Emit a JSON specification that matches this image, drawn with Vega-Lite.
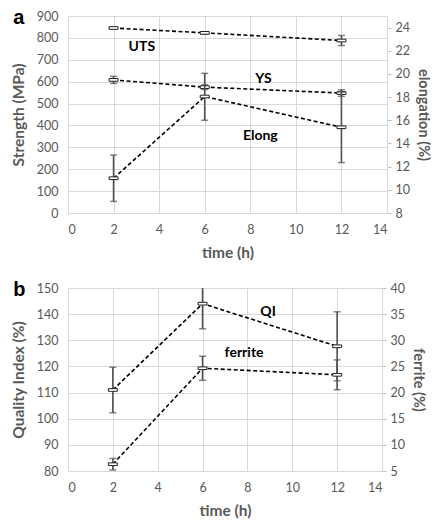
{
  "$schema": "https://vega.github.io/schema/vega-lite/v6.json",
  "background": "white",
  "padding": {"left": 11, "top": 8, "right": 0, "bottom": 0},
  "spacing": 19,
  "config": {
    "font": "Lato",
    "view": {"stroke": null},
    "axis": {
      "labelFont": "Lato", "labelFontSize": 12.5, "labelColor": "#595959",
      "titleFont": "Lato", "titleFontSize": 15.5, "titleFontWeight": "bold", "titleColor": "#595959",
      "gridColor": "#d9d9d9", "domainColor": "#d9d9d9", "tickColor": "#bfbfbf"
    },
    "title": {"font": "Liberation Sans", "fontSize": 20, "fontWeight": "bold", "color": "#000", "anchor": "start", "frame": "bounds"}
  },
  "datasets": {
    "a": [
      {"time": 2, "series": "UTS", "value": 845, "lo": 842, "hi": 848},
      {"time": 6, "series": "UTS", "value": 823, "lo": 818, "hi": 828},
      {"time": 12, "series": "UTS", "value": 788, "lo": 765, "hi": 811},
      {"time": 2, "series": "YS", "value": 608, "lo": 592, "hi": 624},
      {"time": 6, "series": "YS", "value": 575, "lo": 564, "hi": 586},
      {"time": 12, "series": "YS", "value": 548, "lo": 533, "hi": 563}
    ],
    "aR": [
      {"time": 2, "series": "Elong", "value": 11.0, "lo": 9.0, "hi": 13.0},
      {"time": 6, "series": "Elong", "value": 18.05, "lo": 16.0, "hi": 20.05},
      {"time": 12, "series": "Elong", "value": 15.4, "lo": 12.35, "hi": 18.45}
    ],
    "aLabels": [
      {"label": "UTS", "time": 3.24, "value": 760},
      {"label": "YS", "time": 8.58, "value": 613},
      {"label": "Elong", "time": 8.44, "value": 352}
    ],
    "b": [
      {"time": 2, "series": "QI", "value": 111.0, "lo": 102.3, "hi": 119.7},
      {"time": 6, "series": "QI", "value": 144.0, "lo": 134.4, "hi": 153.6},
      {"time": 12, "series": "QI", "value": 127.7, "lo": 114.5, "hi": 140.9}
    ],
    "bR": [
      {"time": 2, "series": "ferrite", "value": 6.3, "lo": 5.2, "hi": 7.4},
      {"time": 6, "series": "ferrite", "value": 24.65, "lo": 22.35, "hi": 26.95},
      {"time": 12, "series": "ferrite", "value": 23.4, "lo": 20.55, "hi": 26.25}
    ],
    "bLabels": [
      {"label": "QI", "time": 8.92, "value": 140.8},
      {"label": "ferrite", "time": 7.85, "value": 125}
    ]
  },
  "vconcat": [
    {
      "width": 319, "height": 197,
      "title": {"text": "a", "dx": 2, "offset": -18},
      "encoding": {
        "x": {"field": "time", "type": "quantitative", "scale": {"domain": [0, 14], "nice": false},
              "axis": {"values": [0, 2, 4, 6, 8, 10, 12, 14], "title": "time (h)", "ticks": false, "labelPadding": 10, "titlePadding": 10}}
      },
      "layer": [
        {
          "encoding": {
            "y": {"type": "quantitative", "scale": {"domain": [0, 900], "nice": false},
                  "axis": {"orient": "left", "values": [0, 100, 200, 300, 400, 500, 600, 700, 800, 900], "title": "Strength (MPa)", "ticks": false, "labelPadding": 10, "titlePadding": 10}}
          },
          "layer": [
            {"data": {"name": "a"}, "mark": {"type": "rule", "color": "#505050", "strokeWidth": 1.6},
             "encoding": {"y": {"field": "lo", "type": "quantitative"}, "y2": {"field": "hi"}}},
            {"data": {"name": "a"}, "mark": {"type": "tick", "orient": "horizontal", "size": 7, "thickness": 1.5, "color": "#505050"},
             "encoding": {"y": {"field": "lo", "type": "quantitative"}}},
            {"data": {"name": "a"}, "mark": {"type": "tick", "orient": "horizontal", "size": 7, "thickness": 1.5, "color": "#505050"},
             "encoding": {"y": {"field": "hi", "type": "quantitative"}}},
            {"data": {"name": "a"}, "mark": {"type": "line", "color": "black", "strokeWidth": 1.6, "strokeDash": [4, 2.5]},
             "encoding": {"y": {"field": "value", "type": "quantitative"}, "detail": {"field": "series"}}},
            {"data": {"name": "a"}, "mark": {"type": "point", "shape": "M-1,-0.3H1V0.3H-1Z", "size": 81, "filled": true, "fill": "white", "stroke": "#222", "strokeWidth": 1, "opacity": 1},
             "encoding": {"y": {"field": "value", "type": "quantitative"}}},
            {"data": {"name": "aLabels"}, "mark": {"type": "text", "font": "Lato", "fontSize": 14, "fontWeight": "bold", "color": "black"},
             "encoding": {"y": {"field": "value", "type": "quantitative"}, "text": {"field": "label"}}}
          ]
        },
        {
          "data": {"name": "aR"},
          "encoding": {
            "y": {"type": "quantitative", "scale": {"domain": [8, 25], "nice": false},
                  "axis": {"orient": "right", "values": [8, 10, 12, 14, 16, 18, 20, 22, 24], "title": "elongation (%)", "titleFontSize": 14.5, "grid": false, "ticks": true, "tickSize": 4, "domain": true, "labelPadding": 4, "titlePadding": 6}}
          },
          "layer": [
            {"mark": {"type": "rule", "color": "#505050", "strokeWidth": 1.6},
             "encoding": {"y": {"field": "lo", "type": "quantitative"}, "y2": {"field": "hi"}}},
            {"mark": {"type": "tick", "orient": "horizontal", "size": 7, "thickness": 1.5, "color": "#505050"},
             "encoding": {"y": {"field": "lo", "type": "quantitative"}}},
            {"mark": {"type": "tick", "orient": "horizontal", "size": 7, "thickness": 1.5, "color": "#505050"},
             "encoding": {"y": {"field": "hi", "type": "quantitative"}}},
            {"mark": {"type": "line", "color": "black", "strokeWidth": 1.6, "strokeDash": [4, 2.5]},
             "encoding": {"y": {"field": "value", "type": "quantitative"}}},
            {"mark": {"type": "point", "shape": "M-1,-0.3H1V0.3H-1Z", "size": 81, "filled": true, "fill": "white", "stroke": "#222", "strokeWidth": 1, "opacity": 1},
             "encoding": {"y": {"field": "value", "type": "quantitative"}}}
          ]
        }
      ],
      "resolve": {"scale": {"y": "independent"}}
    },
    {
      "width": 314, "height": 183,
      "title": {"text": "b", "dx": 2, "offset": -18},
      "encoding": {
        "x": {"field": "time", "type": "quantitative", "scale": {"domain": [0, 14], "nice": false},
              "axis": {"values": [0, 2, 4, 6, 8, 10, 12, 14], "title": "time (h)", "ticks": false, "labelPadding": 10, "titlePadding": 10}}
      },
      "layer": [
        {
          "encoding": {
            "y": {"type": "quantitative", "scale": {"domain": [80, 150], "nice": false},
                  "axis": {"orient": "left", "values": [80, 90, 100, 110, 120, 130, 140, 150], "title": "Quality Index (%)", "ticks": false, "labelPadding": 10, "titlePadding": 10}}
          },
          "layer": [
            {"data": {"name": "b"}, "mark": {"type": "rule", "color": "#505050", "strokeWidth": 1.6, "clip": true},
             "encoding": {"y": {"field": "lo", "type": "quantitative"}, "y2": {"field": "hi"}}},
            {"data": {"name": "b"}, "mark": {"type": "tick", "orient": "horizontal", "size": 7, "thickness": 1.5, "color": "#505050", "clip": true},
             "encoding": {"y": {"field": "lo", "type": "quantitative"}}},
            {"data": {"name": "b"}, "mark": {"type": "tick", "orient": "horizontal", "size": 7, "thickness": 1.5, "color": "#505050", "clip": true},
             "encoding": {"y": {"field": "hi", "type": "quantitative"}}},
            {"data": {"name": "b"}, "mark": {"type": "line", "color": "black", "strokeWidth": 1.6, "strokeDash": [4, 2.5]},
             "encoding": {"y": {"field": "value", "type": "quantitative"}}},
            {"data": {"name": "b"}, "mark": {"type": "point", "shape": "M-1,-0.3H1V0.3H-1Z", "size": 81, "filled": true, "fill": "white", "stroke": "#222", "strokeWidth": 1, "opacity": 1},
             "encoding": {"y": {"field": "value", "type": "quantitative"}}},
            {"data": {"name": "bLabels"}, "mark": {"type": "text", "font": "Lato", "fontSize": 14, "fontWeight": "bold", "color": "black"},
             "encoding": {"y": {"field": "value", "type": "quantitative"}, "text": {"field": "label"}}}
          ]
        },
        {
          "data": {"name": "bR"},
          "encoding": {
            "y": {"type": "quantitative", "scale": {"domain": [5, 40], "nice": false},
                  "axis": {"orient": "right", "values": [5, 10, 15, 20, 25, 30, 35, 40], "title": "ferrite (%)", "titleFontSize": 14.5, "grid": false, "ticks": true, "tickSize": 4, "domain": true, "labelPadding": 4, "titlePadding": 6}}
          },
          "layer": [
            {"mark": {"type": "rule", "color": "#505050", "strokeWidth": 1.6},
             "encoding": {"y": {"field": "lo", "type": "quantitative"}, "y2": {"field": "hi"}}},
            {"mark": {"type": "tick", "orient": "horizontal", "size": 7, "thickness": 1.5, "color": "#505050"},
             "encoding": {"y": {"field": "lo", "type": "quantitative"}}},
            {"mark": {"type": "tick", "orient": "horizontal", "size": 7, "thickness": 1.5, "color": "#505050"},
             "encoding": {"y": {"field": "hi", "type": "quantitative"}}},
            {"mark": {"type": "line", "color": "black", "strokeWidth": 1.6, "strokeDash": [4, 2.5]},
             "encoding": {"y": {"field": "value", "type": "quantitative"}}},
            {"mark": {"type": "point", "shape": "M-1,-0.3H1V0.3H-1Z", "size": 81, "filled": true, "fill": "white", "stroke": "#222", "strokeWidth": 1, "opacity": 1},
             "encoding": {"y": {"field": "value", "type": "quantitative"}}}
          ]
        }
      ],
      "resolve": {"scale": {"y": "independent"}}
    }
  ]
}
